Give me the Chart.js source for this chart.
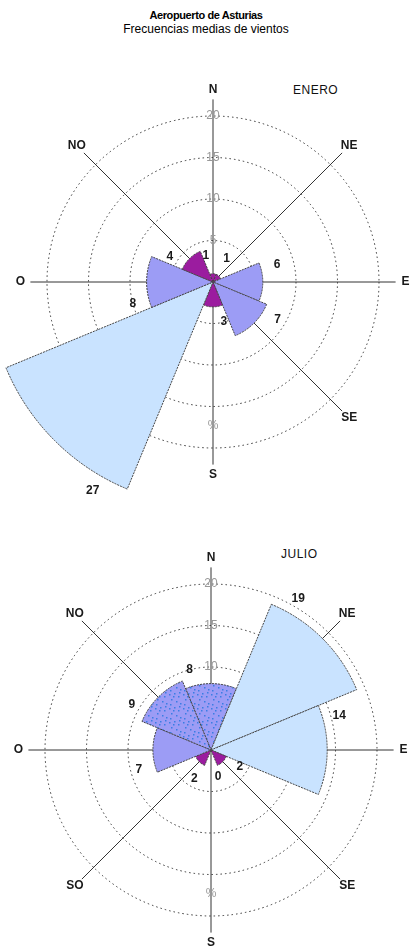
<!DOCTYPE html>
<html>
<head>
<meta charset="utf-8">
<script src="https://cdn.jsdelivr.net/npm/chart.js@4.4.1/dist/chart.umd.min.js"></script>
<style>
	body { margin: 0; background: #fff; font-family: "Liberation Sans", Arial, sans-serif; }
	#page { position: relative; width: 412px; height: 946px; overflow: hidden; }
	.title { position: absolute; left: 0; width: 412px; text-align: center; color: #000; }
	#t1 { top: 9px; font-size: 11px; font-weight: bold; letter-spacing: -0.4px; }
	#t2 { top: 22px; font-size: 12px; }
	.month { position: absolute; font-size: 12px; color: #111; letter-spacing: 0.5px; }
	canvas { position: absolute; left: 0; }
</style>
</head>
<body>
<div id="page">
	<div class="title" id="t1">Aeropuerto de Asturias</div>
	<div class="title" id="t2">Frecuencias medias de vientos</div>
	<div class="month" style="left:293px;top:83px">ENERO</div>
	<div class="month" style="left:281px;top:547px">JULIO</div>
	<canvas id="chart-enero" width="412" height="470" style="top:40px"></canvas>
	<canvas id="chart-julio" width="412" height="436" style="top:510px"></canvas>
</div>
<script>
// data (% of time per direction)
const DIRECTIONS = ["N", "NE", "E", "SE", "S", "SO", "O", "NO"];
const ENERO = [1, 1, 6, 7, 3, 27, 8, 4];
const JULIO = [8, 19, 14, 2, 0, 2, 7, 9];
const RING_MAX = 20;
const RING_STEP = 5;

const COLORS = {
	light: "#c9e3ff",
	mid: "#9c9cf5",
	dark: "#9b1c9f",
	speck: "#3a7de4",
	line: "#333",
	tick: "#999",
	text: "#1a1a1a",
};

const classColor = (v) => (v >= 10 ? COLORS.light : v >= 5 ? COLORS.mid : COLORS.dark);

// blue speckled fill used by two sectors in July
const speckle = (ctx, base) => {
	const c = document.createElement("canvas");
	c.width = c.height = 14;
	const x = c.getContext("2d");
	x.fillStyle = base;
	x.fillRect(0, 0, 14, 14);
	x.fillStyle = COLORS.speck;
	[[1, 2], [6, 1], [10, 4], [3, 7], [8, 9], [12, 11], [2, 12], [5, 4], [11, 0]].forEach(([a, b]) => x.fillRect(a, b, 1.5, 1.5));
	return ctx.createPattern(c, "repeat");
};

const bearing = (i) => (i * 360) / DIRECTIONS.length;
const toXY = (scale, deg, dist) => {
	const a = ((deg - 90) * Math.PI) / 180;
	return [scale.xCenter + Math.cos(a) * dist, scale.yCenter + Math.sin(a) * dist];
};

const roseDecor = {
	id: "roseDecor",
	// axes, compass names and ring values sit under the sectors
	beforeDatasetsDraw(chart) {
		const { ctx } = chart;
		const r = chart.scales.r;
		const len = r.getDistanceFromCenterForValue(22);
		const labR = r.getDistanceFromCenterForValue(23.2);
		ctx.save();
		ctx.strokeStyle = COLORS.line;
		ctx.lineWidth = 1;
		ctx.fillStyle = COLORS.text;
		ctx.font = "bold 12px 'Liberation Sans', Arial, sans-serif";
		ctx.textAlign = "center";
		ctx.textBaseline = "middle";
		DIRECTIONS.forEach((d, i) => {
			const [x, y] = toXY(r, bearing(i), len);
			ctx.beginPath();
			ctx.moveTo(r.xCenter, r.yCenter);
			ctx.lineTo(x, y);
			ctx.stroke();
			const [lx, ly] = toXY(r, bearing(i), labR);
			ctx.fillText(d, lx, ly);
		});
		ctx.font = "12px 'Liberation Sans', Arial, sans-serif";
		ctx.fillStyle = COLORS.tick;
		r.ticks.forEach((t) => {
			if (t.value > 0) ctx.fillText(t.label, r.xCenter, r.yCenter - r.getDistanceFromCenterForValue(t.value));
		});
		const [px, py] = toXY(r, 180, r.getDistanceFromCenterForValue(17.3));
		ctx.fillText("%", px, py);
		ctx.restore();
	},
	afterDatasetsDraw(chart) {
		const { ctx } = chart;
		const r = chart.scales.r;
		const values = chart.data.datasets[0].data;
		ctx.save();
		ctx.textAlign = "center";
		ctx.textBaseline = "middle";
		ctx.font = "bold 12px 'Liberation Sans', Arial, sans-serif";
		ctx.fillStyle = COLORS.text;
		values.forEach((v, i) => {
			const dist = r.getDistanceFromCenterForValue(Math.max(v + 2, 3.3));
			const [x, y] = toXY(r, bearing(i) - 15, dist);
			ctx.fillText(String(v), x, y);
		});
		ctx.restore();
	},
};

const makeRose = (canvasId, values, textured, padding) => {
	const el = document.getElementById(canvasId);
	const ctx = el.getContext("2d");
	const fills = values.map((v, i) => (textured.includes(DIRECTIONS[i]) ? speckle(ctx, classColor(v)) : classColor(v)));
	return new Chart(el, {
		type: "polarArea",
		data: {
			labels: DIRECTIONS,
			datasets: [
				{
					data: values,
					backgroundColor: fills,
					borderColor: "#444",
					borderWidth: 1,
					borderDash: [2, 1],
					clip: false,
				},
			],
		},
		options: {
			responsive: false,
			animation: false,
			layout: { padding },
			plugins: {
				legend: { display: false },
				tooltip: { enabled: false },
			},
			scales: {
				r: {
					min: 0,
					max: RING_MAX,
					startAngle: -180 / DIRECTIONS.length,
					ticks: { display: false, stepSize: RING_STEP },
					grid: { circular: true, color: "#333", lineWidth: 1 },
					border: { dash: [1.5, 3] },
					angleLines: { display: false },
					pointLabels: { display: false },
				},
			},
		},
		plugins: [roseDecor],
	});
};

makeRose("chart-enero", ENERO, [], { left: 47, right: 33, top: 76, bottom: 62 });
makeRose("chart-julio", JULIO, ["N", "NO"], { left: 45, right: 35, top: 74, bottom: 30 });
</script>
</body>
</html>
